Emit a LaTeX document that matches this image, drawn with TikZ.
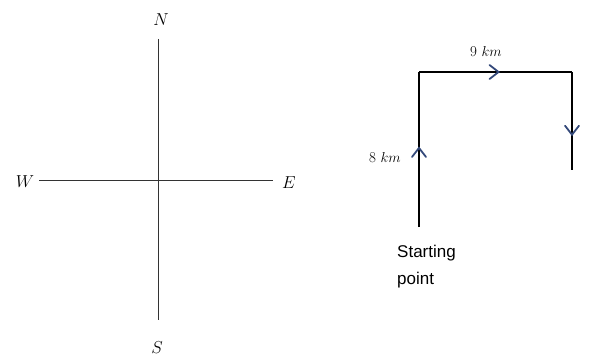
\documentclass[tikz,border=0pt]{standalone}
\usepackage{fontspec}
\newfontfamily\labelfont{Liberation Sans}
\usetikzlibrary{decorations.markings}

\definecolor{chevblue}{HTML}{34497A}

\begin{document}
\begin{tikzpicture}[x=1pt, y=-1pt,
  every node/.style={inner sep=0pt},
  compass/.style={draw=black!80, line width=0.9pt},
  dir/.style={font=\fontsize{18}{18}\selectfont},
  dist/.style={font=\fontsize{15}{15}\selectfont},
  route/.style={draw=black, line width=1.2pt},
  chev/.style={postaction={decorate, decoration={markings,
    mark=at position #1 with {\draw[chevblue, line width=1.8pt, line cap=round] (-9,-7) -- (0,0) -- (-9,7);}}}}
]
  \useasboundingbox (0,0) rectangle (605,361);

  % compass
  \node[dir] (north) at (161,20) {$N$};
  \node[dir] (south) at (157,348) {$S$};
  \node[dir] (west) at (25,182) {$W$};
  \node[dir] (east) at (289,183) {$E$};
  \coordinate (ntip) at (158,39);
  \coordinate (stip) at (158,320);
  \coordinate (wtip) at (39,180);
  \coordinate (etip) at (273,180);
  \draw[compass] (ntip) -- (stip);
  \draw[compass] (wtip) -- (etip);

  % route
  \coordinate (start) at (419,227);
  \coordinate (turn1) at (419,72);
  \coordinate (turn2) at (572,72);
  \coordinate (stop) at (572,170);
  \draw[route, chev=0.51] (start) -- (turn1);
  \draw[route, chev=0.52] (turn1) -- (turn2);
  \draw[route, chev=0.64] (turn2) -- (stop);

  \node[dist] (up) at (385,158) {8 $km$};
  \node[dist] (across) at (486,52) {9 $km$};
  \node[anchor=north west, align=left, font=\labelfont\fontsize{17}{27}\selectfont] (startlbl) at (397,245) {Starting\\point};
\end{tikzpicture}
\end{document}
